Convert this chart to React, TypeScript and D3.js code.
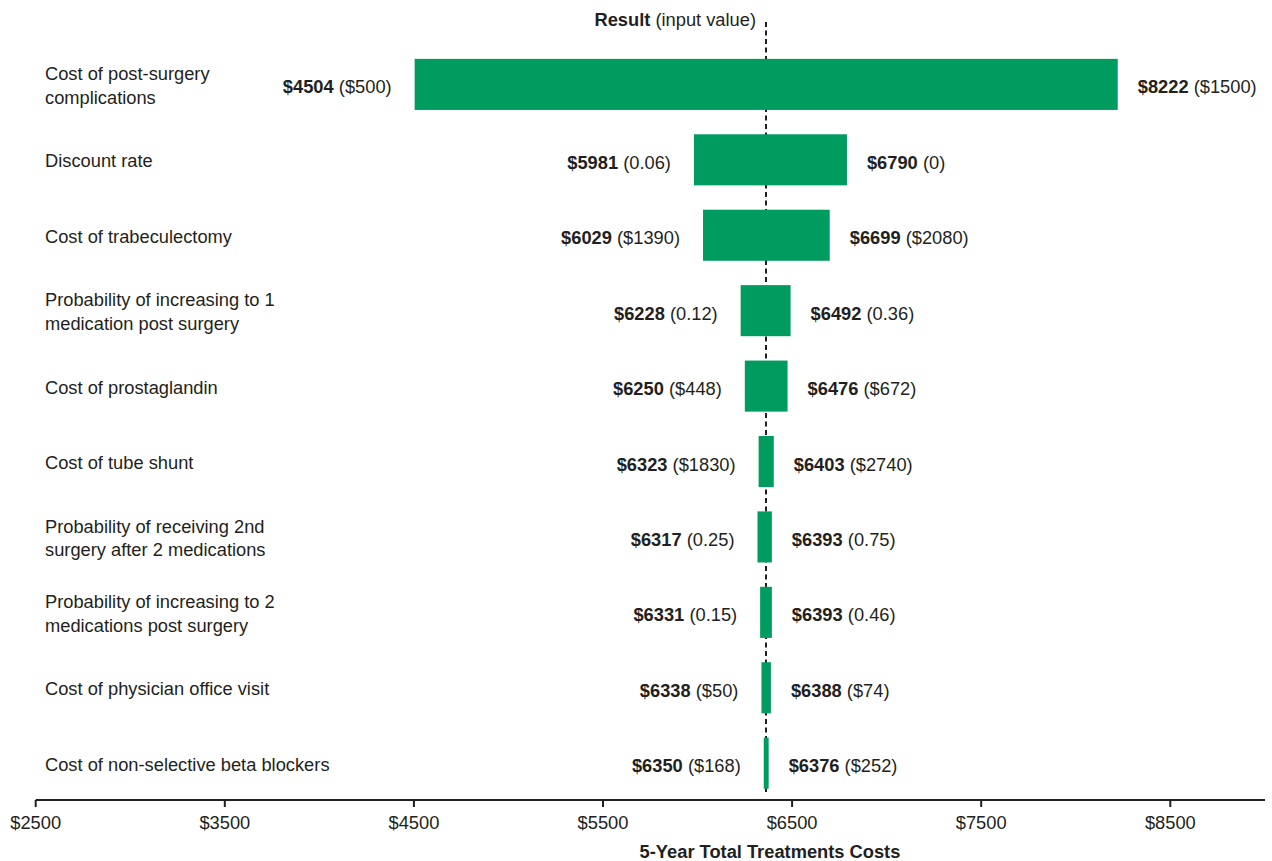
import React from "react";
import * as d3 from "d3";

const labels: string[][] = [
  ["Cost of post-surgery", "complications"],
  ["Discount rate"],
  ["Cost of trabeculectomy"],
  ["Probability of increasing to 1", "medication post surgery"],
  ["Cost of prostaglandin"],
  ["Cost of tube shunt"],
  ["Probability of receiving 2nd", "surgery after 2 medications"],
  ["Probability of increasing to 2", "medications post surgery"],
  ["Cost of physician office visit"],
  ["Cost of non-selective beta blockers"],
];
const lowResults = [4504, 5981, 6029, 6228, 6250, 6323, 6317, 6331, 6338, 6350];
const highResults = [8222, 6790, 6699, 6492, 6476, 6403, 6393, 6393, 6388, 6376];
const lowInputs = ["($500)", "(0.06)", "($1390)", "(0.12)", "($448)", "($1830)", "(0.25)", "(0.15)", "($50)", "($168)"];
const highInputs = ["($1500)", "(0)", "($2080)", "(0.36)", "($672)", "($2740)", "(0.75)", "(0.46)", "($74)", "($252)"];
const baseValue = 6362;
const tickValues = [2500, 3500, 4500, 5500, 6500, 7500, 8500];

const W = 1272;
const H = 861;
const FONT = "'Liberation Sans', Arial, Helvetica, sans-serif";
const TEXT = "#231f20";
const GREEN = "#009b5e";
const FS = 18.3;

export default function App() {
  const x = d3.scaleLinear().domain([2500, 8500]).range([35.7, 1170.3]);
  const y = d3
    .scaleBand<number>()
    .domain(d3.range(labels.length))
    .range([46.8, 800.8])
    .paddingInner(0.323)
    .paddingOuter(0.16);
  const bw = y.bandwidth();

  return (
    <svg
      width={W}
      height={H}
      style={{ position: "absolute", left: 0, top: 0, background: "#fff" }}
      fontFamily={FONT}
      fontSize={FS}
      fill={TEXT}
    >
      <line
        x1={x(baseValue)}
        x2={x(baseValue)}
        y1={22}
        y2={792}
        stroke={TEXT}
        strokeWidth={2}
        strokeDasharray="5,3.5"
      />
      <text x={x(baseValue) - 10} y={26} textAnchor="end">
        <tspan fontWeight="bold">Result</tspan>
        <tspan> (input value)</tspan>
      </text>

      {labels.map((lab, i) => {
        const y0 = y(i)!;
        const cy = y0 + bw / 2;
        const x0 = x(lowResults[i]);
        const x1 = x(highResults[i]);
        const lineH = 23.5;
        const startY = cy + 0.5 - ((lab.length - 1) * lineH) / 2;
        return (
          <g key={i}>
            <rect x={x0} y={y0} width={x1 - x0} height={bw} fill={GREEN} />
            <text x={45} y={startY} dominantBaseline="central">
              {lab.map((l, j) => (
                <tspan key={j} x={45} y={startY + j * lineH}>
                  {l}
                </tspan>
              ))}
            </text>
            <text x={x0 - 23} y={cy + 2} textAnchor="end" dominantBaseline="central">
              <tspan fontWeight="bold">${lowResults[i]}</tspan>
              <tspan> {lowInputs[i]}</tspan>
            </text>
            <text x={x1 + 20} y={cy + 2} dominantBaseline="central">
              <tspan fontWeight="bold">${highResults[i]}</tspan>
              <tspan> {highInputs[i]}</tspan>
            </text>
          </g>
        );
      })}

      <line x1={35.7} x2={1265} y1={800} y2={800} stroke={TEXT} strokeWidth={2} />
      {tickValues.map((t) => (
        <g key={t}>
          <line x1={x(t)} x2={x(t)} y1={800} y2={807} stroke={TEXT} strokeWidth={2} />
          <text x={x(t)} y={829} textAnchor="middle">
            ${t}
          </text>
        </g>
      ))}
      <text x={x(baseValue) + 4} y={858} textAnchor="middle" fontWeight="bold">
        5-Year Total Treatments Costs
      </text>
    </svg>
  );
}
